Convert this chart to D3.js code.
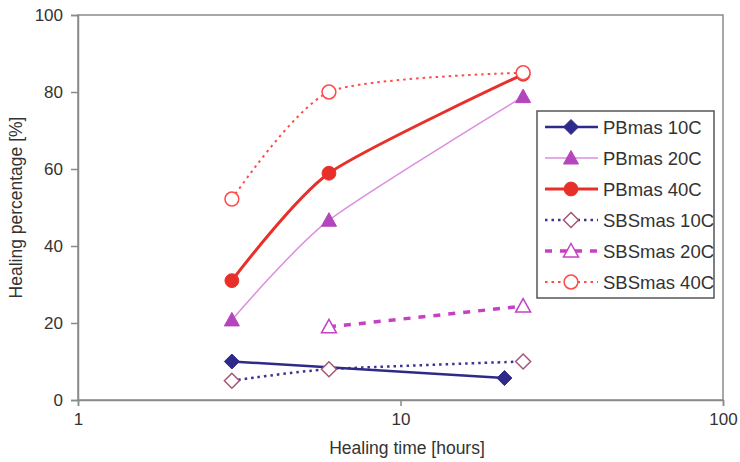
<!DOCTYPE html>
<html>
<head>
<meta charset="utf-8">
<script src="https://cdn.jsdelivr.net/npm/d3@7"></script>
<style>
  body { margin: 0; background: #fff; }
  svg { font-family: "Liberation Sans", Arial, sans-serif; }
</style>
</head>
<body>
<svg id="chart" width="740" height="462"></svg>
<script>
// data
const seriesNames = ["PBmas 10C", "PBmas 20C", "PBmas 40C", "SBSmas 10C", "SBSmas 20C", "SBSmas 40C"];
const pb10Hours = [3, 21];
const pb10Values = [10, 5.7];
const pb20Hours = [3, 6, 24];
const pb20Values = [20.8, 46.7, 78.8];
const pb40Hours = [3, 6, 24];
const pb40Values = [31, 58.9, 84.6];
const sbs10Hours = [3, 6, 24];
const sbs10Values = [5, 8, 10];
const sbs20Hours = [6, 24];
const sbs20Values = [19, 24.4];
const sbs40Hours = [3, 6, 24];
const sbs40Values = [52.2, 80, 85];
const xTicks = [1, 10, 100];
const yTicks = [0, 20, 40, 60, 80, 100];

const svg = d3.select("#chart");
const margin = {left: 78, top: 15, right: 17, bottom: 62};
const W = 740, H = 462;

const x = d3.scaleLog().domain([1, 100]).range([margin.left, W - margin.right]);
const y = d3.scaleLinear().domain([0, 100]).range([H - margin.bottom, margin.top]);

const styles = [
  {line: "#2e2a8a", w: 2.5, dash: null, marker: "diamond", fill: "#2e2a8a", stroke: "#2e2a8a", smooth: false},
  {line: "#dc8fe0", w: 1.5, dash: null, marker: "triangle", fill: "#b445bc", stroke: "#b445bc", smooth: true},
  {line: "#e8302a", w: 3, dash: null, marker: "circle", fill: "#e8302a", stroke: "#e8302a", smooth: true},
  {line: "#3a3590", w: 2.5, dash: "2.5,4", marker: "diamond", fill: "#fff", stroke: "#a55575", smooth: true},
  {line: "#c640c6", w: 3.5, dash: "7,8", marker: "triangle", fill: "#fff", stroke: "#c640c6", smooth: true},
  {line: "#ff4a4a", w: 2, dash: "2.5,4", marker: "circle", fill: "#fff", stroke: "#ff4a4a", smooth: true}
];

const hours = [pb10Hours, pb20Hours, pb40Hours, sbs10Hours, sbs20Hours, sbs40Hours];
const values = [pb10Values, pb20Values, pb40Values, sbs10Values, sbs20Values, sbs40Values];

const series = seriesNames.map((name, i) => ({
  name: name,
  style: styles[i],
  pts: hours[i].map((h, j) => ({h: h, v: values[i][j]}))
}));

// frame
const axisColor = "#8a8a8a";
svg.append("rect")
  .attr("x", x(1)).attr("y", y(100))
  .attr("width", x(100) - x(1)).attr("height", y(0) - y(100))
  .attr("fill", "none").attr("stroke", axisColor).attr("stroke-width", 1.5);

// y axis
const yAxis = svg.append("g")
  .attr("transform", `translate(${x(1)},0)`)
  .call(d3.axisLeft(y).tickValues(yTicks).tickSize(7).tickPadding(8));
yAxis.select(".domain").attr("stroke", axisColor).attr("stroke-width", 1.5);
yAxis.selectAll(".tick line").attr("stroke", axisColor).attr("stroke-width", 1.5);
yAxis.selectAll("text").attr("fill", "#333").style("font-size", "17px");

// x axis
const xAxis = svg.append("g")
  .attr("transform", `translate(0,${y(0)})`)
  .call(d3.axisBottom(x).tickValues(xTicks).tickFormat(d3.format("d")).tickSize(6).tickPadding(7));
xAxis.select(".domain").attr("stroke", axisColor).attr("stroke-width", 1.5);
xAxis.selectAll(".tick line").attr("stroke", axisColor).attr("stroke-width", 1.5);
xAxis.selectAll("text").attr("fill", "#333").style("font-size", "17px");

// axis titles
svg.append("text")
  .attr("x", 407).attr("y", 454)
  .attr("text-anchor", "middle").attr("fill", "#333").style("font-size", "17.5px")
  .text("Healing time [hours]");
svg.append("text")
  .attr("transform", `translate(22,${(y(0) + y(100)) / 2}) rotate(-90)`)
  .attr("text-anchor", "middle").attr("fill", "#333").style("font-size", "17.5px")
  .text("Healing percentage [%]");

function markerPath(type) {
  if (type === "diamond") return "M0,-7.5L7.5,0L0,7.5L-7.5,0Z";
  if (type === "triangle") return "M0,-7.5L7.5,6L-7.5,6Z";
  return d3.symbol(d3.symbolCircle, 150)();
}

const lineSmooth = d3.line().x(d => x(d.h)).y(d => y(d.v)).curve(d3.curveCardinal.tension(0.3));
const lineStraight = d3.line().x(d => x(d.h)).y(d => y(d.v));

// lines first, then PB markers, then open SBS markers on top
const order = [5, 4, 3, 1, 2, 0];
order.forEach(i => {
  const s = series[i];
  svg.append("path")
    .datum(s.pts)
    .attr("d", s.style.smooth ? lineSmooth : lineStraight)
    .attr("fill", "none")
    .attr("stroke", s.style.line)
    .attr("stroke-width", s.style.w)
    .attr("stroke-dasharray", s.style.dash);
});

[0, 1, 2, 3, 4, 5].forEach(i => {
  const s = series[i];
  svg.append("g").selectAll("path")
    .data(s.pts)
    .enter()
    .append("path")
      .attr("transform", d => `translate(${x(d.h)},${y(d.v)})`)
      .attr("d", markerPath(s.style.marker))
      .attr("fill", s.style.fill)
      .attr("stroke", s.style.stroke)
      .attr("stroke-width", s.style.fill === "#fff" ? 1.5 : 1);
});

// legend
const lg = svg.append("g").attr("transform", "translate(537,111)");
lg.append("rect")
  .attr("width", 177).attr("height", 187)
  .attr("fill", "#fff").attr("stroke", "#555").attr("stroke-width", 1.5);

const rowH = 31;
series.forEach((s, i) => {
  const row = lg.append("g").attr("transform", `translate(0,${16 + i * rowH})`);
  row.append("line")
    .attr("x1", 8).attr("x2", 61).attr("y1", 0).attr("y2", 0)
    .attr("stroke", s.style.line)
    .attr("stroke-width", s.style.w)
    .attr("stroke-dasharray", s.style.dash);
  row.append("path")
    .attr("transform", "translate(34,0)")
    .attr("d", markerPath(s.style.marker))
    .attr("fill", s.style.fill)
    .attr("stroke", s.style.stroke)
    .attr("stroke-width", s.style.fill === "#fff" ? 1.5 : 1);
  row.append("text")
    .attr("x", 66).attr("y", 6.5)
    .attr("fill", "#333").style("font-size", "18.5px")
    .text(s.name);
});
</script>
</body>
</html>
